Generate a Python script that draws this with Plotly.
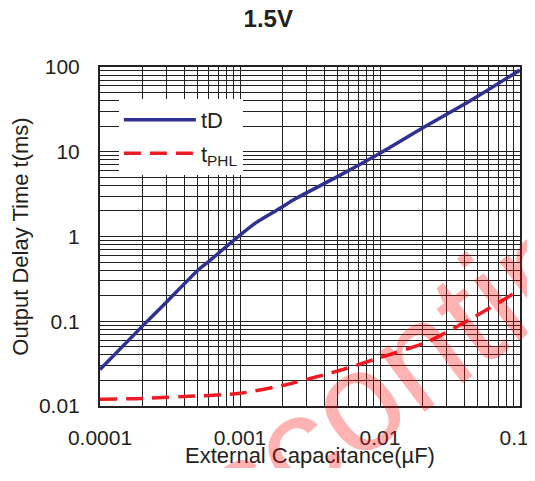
import plotly.graph_objects as go

# ---- data ----
cap_td = [0.0001, 0.0002, 0.0003, 0.0005, 0.0006, 0.001, 0.00128, 0.00193, 0.0025, 0.0052, 0.01, 0.02, 0.046, 0.1]
t_td = [0.027, 0.087, 0.17, 0.40, 0.51, 1.04, 1.43, 2.15, 2.8, 5.3, 9.6, 18.9, 41.6, 92]

cap_phl = [0.0001, 0.0002, 0.00048, 0.001, 0.0021, 0.0048, 0.0097, 0.022, 0.045, 0.1]
t_phl = [0.012, 0.0123, 0.0131, 0.0141, 0.0177, 0.0254, 0.0366, 0.0574, 0.108, 0.234]

x_decades = [0.0001, 0.001, 0.01, 0.1]
x_decade_labels = ["0.0001", "0.001", "0.01", "0.1"]
y_decades = [0.01, 0.1, 1, 10, 100]
y_decade_labels = ["0.01", "0.1", "1", "10", "100"]
mantissas = [1, 2, 3, 4, 5, 6, 7, 8, 9]

title_text = "<b>1.5V</b>"
x_title = "External Capacitance(µF)"
y_title = "Output Delay Time t(ms)"
watermark = "Discontinued"


def grid_ticks(decades, labels):
    vals, texts = [], []
    for i, d in enumerate(decades):
        for m in mantissas:
            if i == len(decades) - 1 and m > 1:
                break
            vals.append(d * m)
            texts.append(labels[i] if m == 1 else " ")
    return vals, texts


xv, xt = grid_ticks(x_decades, x_decade_labels)
yv, yt = grid_ticks(y_decades, y_decade_labels)
# nudge the right-most label a little left so it stays inside the window
xt[-1] = xt[-1] + "\u00a0\u00a0"

FONT = "Liberation Sans, Arial, sans-serif"

fig = go.Figure()
fig.add_trace(go.Scatter(
    x=cap_td, y=t_td, mode="lines", name="tD",
    line=dict(color="#2E3192", width=3.5, shape="spline", smoothing=0.6),
    legendgroup="a",
))
fig.add_trace(go.Scatter(
    x=cap_phl, y=t_phl, mode="lines", name="t<sub>PHL</sub>",
    line=dict(color="#ED1C24", width=3.5, dash="17px,9px", shape="spline", smoothing=0.6),
    legendgroup="b",
))

axis_common = dict(
    type="log", automargin=False,
    showgrid=True, gridcolor="#222222", gridwidth=1.2,
    showline=True, linecolor="#222222", linewidth=2, mirror=True,
    ticks="", zeroline=False, tickangle=0,
    tickfont=dict(family=FONT, size=21, color="#231F20"),
    title_font=dict(family=FONT, size=22, color="#231F20"),
)

fig.update_xaxes(
    **axis_common,
    range=[-4, -1],
    tickmode="array", tickvals=xv, ticktext=xt,
    ticklabelstandoff=12,
    title_text=x_title, title_standoff=6,
)
fig.update_yaxes(
    **axis_common,
    range=[-2, 2],
    tickmode="array", tickvals=yv, ticktext=yt,
    ticklabelstandoff=14,
    title_text=y_title, title_standoff=12,
)

fig.add_annotation(
    text=watermark, xref="paper", yref="paper", x=0.79, y=0.18,
    xanchor="center", yanchor="middle", showarrow=False, textangle=-37,
    font=dict(family=FONT, size=142, color="rgba(255,0,0,0.3)"),
)

# the page body adds an 8px offset, so the figure is shifted to compensate
fig.update_layout(
    width=535, height=460,
    margin=dict(l=92, r=23, t=59, b=62, autoexpand=False),
    paper_bgcolor="white", plot_bgcolor="white",
    title=dict(text=title_text, x=0.4865, xref="container", xanchor="center",
               y=0.978, yref="container", yanchor="middle", automargin=False,
               font=dict(family=FONT, size=24, color="#231F20")),
    legend=dict(
        x=0.045, y=0.906, xanchor="left", yanchor="top",
        bgcolor="white", borderwidth=0,
        font=dict(family=FONT, size=22, color="#231F20"),
        traceorder="grouped", tracegroupgap=2, itemwidth=72,
    ),
    showlegend=True,
)

fig.write_html("out.html")
